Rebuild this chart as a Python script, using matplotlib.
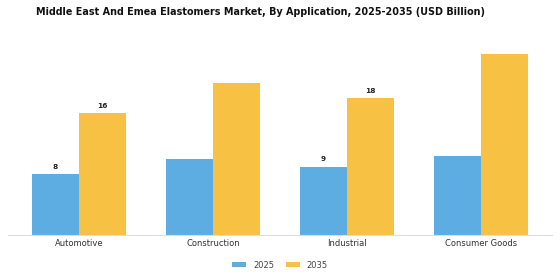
import matplotlib
matplotlib.use("Agg")
import matplotlib.pyplot as plt
import numpy as np

categories = ["Automotive", "Construction", "Industrial", "Consumer Goods"]
values_2025 = [8, 10.0, 9, 10.4]
values_2035 = [16, 20.0, 18, 23.8]
labels_2025 = ["8", None, "9", None]
labels_2035 = ["16", None, "18", None]
series_names = ["2025", "2035"]

c2025 = "#5DADE2"
c2035 = "#F7C244"

fig = plt.figure(figsize=(5.6, 2.8), dpi=100)
ax = fig.add_axes([8/560, 1 - 235/280, 544/560, 197/280])

x = np.arange(len(categories))
w = 0.35
b1 = ax.bar(x - w/2, values_2025, w, color=c2025, label=series_names[0])
b2 = ax.bar(x + w/2, values_2035, w, color=c2035, label=series_names[1])

for bars, labs in ((b1, labels_2025), (b2, labels_2035)):
    for r, lab in zip(bars, labs):
        if lab:
            ax.text(r.get_x() + r.get_width()/2, r.get_height() + 0.6, lab,
                    ha="center", va="bottom", fontsize=5.3, fontweight="bold", color="#222222")

ax.set_xlim(-0.53, 3.53)
ax.set_ylim(0, 25.9)
ax.set_xticks(x)
ax.set_xticklabels(categories, fontsize=6.0, color="#333333")
ax.tick_params(axis="x", length=0, pad=3)
ax.set_yticks([])
for s in ("left", "right", "top"):
    ax.spines[s].set_visible(False)
ax.spines["bottom"].set_color("#dddddd")
ax.spines["bottom"].set_linewidth(0.8)

fig.suptitle("Middle East And Emea Elastomers Market, By Application, 2025-2035 (USD Billion)",
             fontsize=6.9, fontweight="bold", x=0.466, y=0.975, color="#111111")

fig.legend(loc="center", bbox_to_anchor=(0.5, 1 - 265/280), ncol=2, frameon=False,
           fontsize=6.0, handlelength=1.7, handleheight=0.55, handletextpad=0.8,
           columnspacing=1.4, labelcolor="#444444")

fig.savefig("out.png", dpi=100)
